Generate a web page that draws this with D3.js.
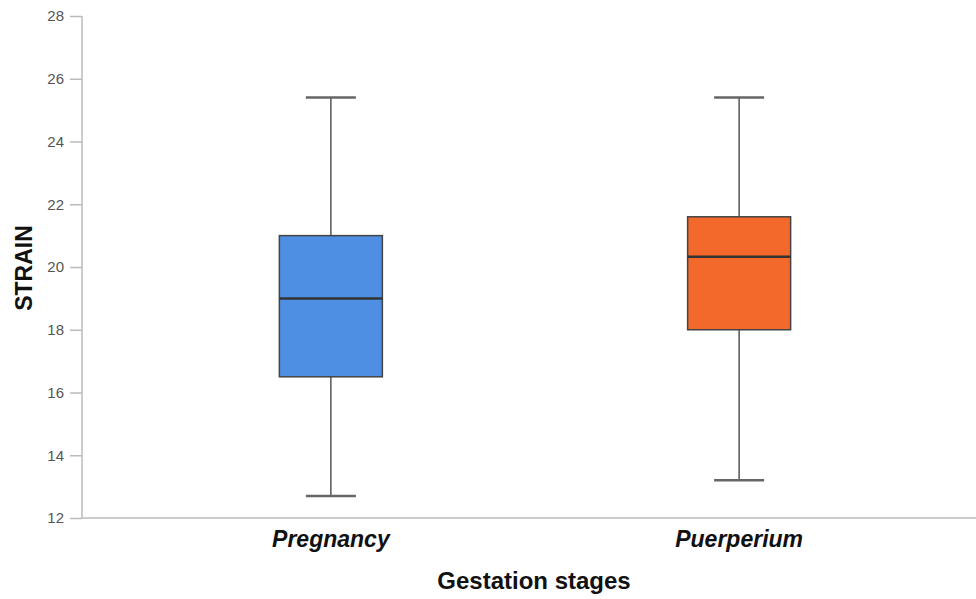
<!DOCTYPE html>
<html>
<head>
<meta charset="utf-8">
<script src="https://cdn.jsdelivr.net/npm/d3@7"></script>
<style>
  body { margin: 0; background: #fff; }
  text { font-family: "Liberation Sans", Arial, sans-serif; }
</style>
</head>
<body>
<svg id="chart" width="976" height="599"></svg>
<script>
// data
var categories = ["Pregnancy", "Puerperium"];
var whiskerLow = [12.7, 13.2];
var q1 = [16.5, 18.0];
var median = [19.0, 20.33];
var q3 = [21.0, 21.6];
var whiskerHigh = [25.4, 25.4];
var colors = ["#4f8fe3", "#f2692b"];
var yTicks = [12, 14, 16, 18, 20, 22, 24, 26, 28];

var svg = d3.select("#chart");

var y = d3.scaleLinear()
  .domain([12, 28])
  .range([518, 16]);

var x = d3.scalePoint()
  .domain(categories)
  .range([90, 980])
  .padding(0.59);

var boxW = 103, capW = 50;

// y axis
var yAxis = d3.axisLeft(y).tickValues(yTicks).tickSize(12).tickPadding(6);
var gy = svg.append("g").attr("transform", "translate(82,0)").call(yAxis);
gy.select(".domain").attr("stroke", "#bbb").attr("stroke-width", 1.5)
  .attr("d", "M0," + y(28) + "V" + y(12));
gy.selectAll(".tick line").attr("stroke", "#bbb").attr("stroke-width", 1.5);
gy.selectAll(".tick text").attr("fill", "#555").style("font-size", "15px");

// x axis line
svg.append("line")
  .attr("x1", 82).attr("x2", 976)
  .attr("y1", y(12)).attr("y2", y(12))
  .attr("stroke", "#bbb").attr("stroke-width", 1.5);

var rows = categories.map(function(c, i) {
  return { cat: c, lo: whiskerLow[i], q1: q1[i], med: median[i], q3: q3[i], hi: whiskerHigh[i], color: colors[i] };
});

var g = svg.selectAll(".box").data(rows).enter().append("g").attr("class", "box");

// whiskers
g.append("line")
  .attr("x1", function(d) { return x(d.cat); })
  .attr("x2", function(d) { return x(d.cat); })
  .attr("y1", function(d) { return y(d.hi); })
  .attr("y2", function(d) { return y(d.lo); })
  .attr("stroke", "#555").attr("stroke-width", 1.5);

// caps
g.selectAll(".cap").data(function(d) { return [d.lo, d.hi].map(function(v) { return { cat: d.cat, v: v }; }); })
  .enter().append("line")
  .attr("x1", function(d) { return x(d.cat) - capW / 2; })
  .attr("x2", function(d) { return x(d.cat) + capW / 2; })
  .attr("y1", function(d) { return y(d.v); })
  .attr("y2", function(d) { return y(d.v); })
  .attr("stroke", "#666").attr("stroke-width", 2.5);

// boxes
g.append("rect")
  .attr("x", function(d) { return x(d.cat) - boxW / 2; })
  .attr("width", boxW)
  .attr("y", function(d) { return y(d.q3); })
  .attr("height", function(d) { return y(d.q1) - y(d.q3); })
  .attr("fill", function(d) { return d.color; })
  .attr("stroke", "#444").attr("stroke-width", 1.5);

// medians
g.append("line")
  .attr("x1", function(d) { return x(d.cat) - boxW / 2; })
  .attr("x2", function(d) { return x(d.cat) + boxW / 2; })
  .attr("y1", function(d) { return y(d.med); })
  .attr("y2", function(d) { return y(d.med); })
  .attr("stroke", "#333").attr("stroke-width", 2.5);

// category labels
svg.selectAll(".cat").data(categories).enter().append("text")
  .attr("x", function(d) { return x(d); })
  .attr("y", 547)
  .attr("text-anchor", "middle")
  .style("font-size", "23px").style("font-weight", "bold").style("font-style", "italic")
  .attr("fill", "#111")
  .text(function(d) { return d; });

// axis titles
svg.append("text")
  .attr("x", 534).attr("y", 589)
  .attr("text-anchor", "middle")
  .style("font-size", "24px").style("font-weight", "bold")
  .attr("fill", "#111")
  .text("Gestation stages");

svg.append("text")
  .attr("transform", "translate(32,268) rotate(-90)")
  .attr("text-anchor", "middle")
  .style("font-size", "23px").style("font-weight", "bold")
  .attr("fill", "#111")
  .text("STRAIN");
</script>
</body>
</html>
